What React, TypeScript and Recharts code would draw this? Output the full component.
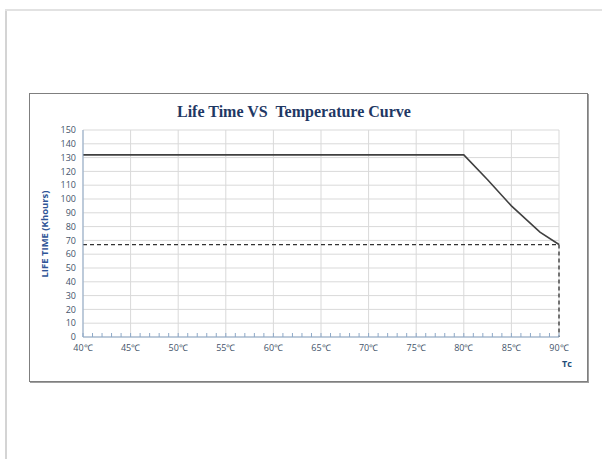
import { LineChart, Line, XAxis, YAxis, CartesianGrid } from 'recharts'

// temperature (°C) vs life time (Khours)
const tempC = [40, 45, 50, 55, 60, 65, 70, 75, 80, 82.5, 85, 88, 90]
const lifeKh = [132, 132, 132, 132, 132, 132, 132, 132, 132, 114, 95, 76, 67]

// dashed derating guide: across at 67 Kh, then down at 90 °C
const guideTemp = [40, 90, 90]
const guideLife = [67, 67, 0]

const majorTicks = [40, 45, 50, 55, 60, 65, 70, 75, 80, 85, 90]
const minorTicks = Array.from({ length: 51 }, (_, i) => 40 + i)
const yTicks = [0, 10, 20, 30, 40, 50, 60, 70, 80, 90, 100, 110, 120, 130, 140, 150]

const curve = tempC.map((t, i) => ({ t, life: lifeKh[i] }))
const guide = guideTemp.map((t, i) => ({ t, life: guideLife[i] }))

const axisColor = '#8ea9c8'
const labelColor = '#44546a'

function XTick(props: any) {
  const { x, y, payload } = props
  const v = payload.value
  const major = majorTicks.includes(v)
  return (
    <g>
      <line x1={x} x2={x} y1={y} y2={y - 4} stroke={axisColor} strokeWidth={1} />
      {major && (
        <text x={x} y={y + 14} textAnchor="middle" fontSize={9} fill={labelColor} fontFamily="'Open Sans', sans-serif">
          {`${v}℃`}
        </text>
      )}
    </g>
  )
}

export default function App() {
  return (
    <div style={{ position: 'fixed', left: 0, top: 0, width: 602, height: 459, background: '#fff', overflow: 'hidden' }}>
      {/* page frame */}
      <div style={{ position: 'absolute', left: 5, top: 9, width: 2, height: 460, background: '#d4d4d4' }} />
      <div style={{ position: 'absolute', left: 5, top: 9, width: 600, height: 2, background: '#e2e2e2' }} />
      {/* chart box */}
      <div
        style={{
          position: 'absolute', left: 29, top: 93, width: 557, height: 287,
          border: '1px solid #7f7f7f', boxShadow: '1px 1px 0 #a0a0a0', background: '#fff',
        }}
      />
      <div style={{ position: 'absolute', left: 0, top: 0 }}>
        <LineChart width={602} height={459} margin={{ top: 130, right: 43, bottom: 102, left: 53 }}>
          <CartesianGrid stroke="#d9d9d9" verticalValues={majorTicks} horizontalValues={yTicks} />
          <XAxis
            dataKey="t"
            type="number"
            domain={[40, 90]}
            ticks={minorTicks}
            interval={0}
            height={20}
            tickSize={0}
            tickMargin={0}
            tickLine={false}
            axisLine={{ stroke: axisColor }}
            tick={<XTick />}
            allowDuplicatedCategory={false}
          />
          <YAxis
            type="number"
            domain={[0, 150]}
            ticks={yTicks}
            interval={0}
            width={30}
            tickSize={0}
            tickMargin={7}
            tickLine={false}
            axisLine={{ stroke: axisColor }}
            tick={{ fontSize: 9, fill: labelColor, fontFamily: "'Open Sans', sans-serif" }}
          />
          <Line
            data={guide}
            dataKey="life"
            type="linear"
            stroke="#333"
            strokeWidth={1.3}
            strokeDasharray="4 3"
            dot={false}
            isAnimationActive={false}
          />
          <Line
            data={curve}
            dataKey="life"
            type="linear"
            stroke="#404040"
            strokeWidth={1.6}
            dot={false}
            isAnimationActive={false}
          />
        </LineChart>
      </div>
      <div
        style={{
          position: 'absolute', left: 177, top: 103, whiteSpace: 'pre',
          fontFamily: "'Liberation Serif', 'Times New Roman', serif", fontWeight: 'bold', fontSize: 16, color: '#1f3864',
        }}
      >
        {'Life Time VS  Temperature Curve'}
      </div>
      <div
        style={{
          position: 'absolute', left: 44, top: 234, transform: 'translate(-50%, -50%) rotate(-90deg)', whiteSpace: 'nowrap',
          fontFamily: "'Open Sans', sans-serif", fontWeight: 'bold', fontSize: 9.5, color: '#2f5597',
        }}
      >
        LIFE TIME (Khours)
      </div>
      <div
        style={{
          position: 'absolute', left: 567, top: 363, transform: 'translate(-50%, -50%)',
          fontFamily: "'Open Sans', sans-serif", fontWeight: 'bold', fontSize: 9, color: '#1f4e79',
        }}
      >
        Tc
      </div>
    </div>
  )
}
